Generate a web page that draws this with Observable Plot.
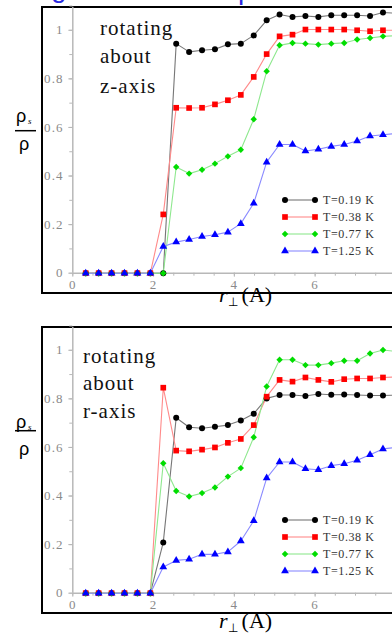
<!DOCTYPE html>
<html><head><meta charset="utf-8">
<script src="https://cdn.jsdelivr.net/npm/d3@7"></script>
<script src="https://cdn.jsdelivr.net/npm/@observablehq/plot@0.6"></script>
<style>
html,body{margin:0;padding:0;background:#fff;overflow:hidden;}
#wrap{position:relative;width:392px;height:635px;overflow:hidden;background:#fff;}
.panel{position:absolute;left:0;width:392px;height:320px;overflow:visible;}
.frame{position:absolute;left:40.5px;top:5.5px;width:440px;height:288px;border:2.5px solid #000;box-sizing:border-box;}
.abs{position:absolute;left:0;top:0;max-width:none !important;}
</style>
</head><body>
<div id="wrap"></div>
<script>
// ---- data ----
const r = [0.32,0.64,0.96,1.28,1.6,1.92,2.24,2.56,2.88,3.2,3.52,3.84,4.16,4.48,4.8,5.12,5.44,5.76,6.08,6.4,6.72,7.04,7.36,7.68,8.0];
const seriesNames = ["T=0.19 K","T=0.38 K","T=0.77 K","T=1.25 K"];
// rotating about z-axis
const zT019 = [0,0,0,0,0,0,0,0.945,0.911,0.918,0.922,0.942,0.945,0.979,1.041,1.065,1.055,1.059,1.055,1.062,1.062,1.062,1.059,1.073,1.07];
const zT038 = [0,0,0,0,0,0,0.242,0.681,0.680,0.681,0.695,0.712,0.734,0.808,0.902,0.975,0.982,1.003,1.003,1.003,1.003,1.0,0.996,1.0,1.0];
const zT077 = [0,0,0,0,0,0,0,0.437,0.41,0.426,0.451,0.481,0.508,0.634,0.831,0.938,0.948,0.945,0.941,0.945,0.948,0.962,0.968,0.975,0.978];
const zT125 = [0,0,0,0,0,0,0.11,0.128,0.139,0.151,0.158,0.169,0.204,0.288,0.457,0.53,0.53,0.503,0.51,0.522,0.53,0.544,0.565,0.57,0.575];
// rotating about r-axis
const rT019 = [0,0,0,0,0,0,0.209,0.722,0.683,0.679,0.685,0.692,0.711,0.739,0.802,0.816,0.816,0.812,0.82,0.817,0.818,0.816,0.814,0.814,0.815];
const rT038 = [0,0,0,0,0,0,0.846,0.587,0.584,0.591,0.6,0.619,0.635,0.692,0.809,0.878,0.871,0.888,0.878,0.87,0.881,0.884,0.884,0.888,0.89];
const rT077 = [0,0,0,0,0,0,0.535,0.421,0.398,0.412,0.435,0.48,0.515,0.642,0.851,0.961,0.961,0.939,0.939,0.947,0.957,0.957,0.987,1.001,0.995];
const rT125 = [0,0,0,0,0,0,0.108,0.135,0.14,0.16,0.16,0.17,0.215,0.298,0.474,0.54,0.54,0.512,0.508,0.525,0.533,0.547,0.57,0.594,0.6];
const xTicks = [0,2,4,6];
const xMinor = [0,0.5,1,1.5,2,2.5,3,3.5,4,4.5,5,5.5,6,6.5,7,7.5,8];
const yTicks = [0,0.2,0.4,0.6,0.8,1];
const yMinor = [0,0.1,0.2,0.3,0.4,0.5,0.6,0.7,0.8,0.9,1,1.1];

// ---- styles ----
const lineColors = ["#777777","#ff8a8a","#8ee88e","#8a8aff"];
const dotColors = ["#000000","#ff0000","#00dd00","#0000ff"];
const symbols = ["circle","square","diamond2","triangle"];
const sizes = [3,3.2,2.9,2.9];
const serif = "'Liberation Serif','Times New Roman',serif";
const sans = "'Liberation Sans',Arial,sans-serif";

const wrap = document.getElementById("wrap");

function makePanel(top, values, cfg) {
  const panel = document.createElement("div");
  panel.className = "panel";
  panel.style.top = top + "px";
  wrap.appendChild(panel);
  const frame = document.createElement("div");
  frame.className = "frame";
  panel.appendChild(frame);

  const data = values.flatMap((vals, k) => vals.map((v, i) => ({r: r[i], v, s: seriesNames[k], k})));
  const marks = [
    Plot.ruleX([0], {stroke: "#b8b8b8", strokeWidth: 1.5}),
    Plot.ruleY([0], {stroke: "#b8b8b8", strokeWidth: 1.5}),
    Plot.axisY({ticks: yMinor, tickSize: 3, tickFormat: () => "", stroke: "#b8b8b8", label: null}),
    Plot.axisY({ticks: yTicks, tickSize: 4, tickPadding: 5, tickFormat: d => String(d), stroke: "#b8b8b8", fill: "#8a8a8a", fontSize: 13, fontFamily: serif, label: null}),
    Plot.axisX({ticks: xMinor, tickSize: 3, tickFormat: () => "", stroke: "#b8b8b8", label: null}),
    Plot.axisX({ticks: xTicks, tickSize: 4, tickPadding: 3, tickFormat: d => String(d), stroke: "#b8b8b8", fill: "#8a8a8a", fontSize: 13, fontFamily: serif, label: null})
  ];
  values.forEach((vals, k) => {
    marks.push(Plot.line(data.filter(d => d.k === k), {x: "r", y: "v", stroke: lineColors[k], strokeWidth: 1.1}));
  });
  values.forEach((vals, k) => {
    marks.push(Plot.dot(data.filter(d => d.k === k), {x: "r", y: "v", symbol: symbols[k], fill: dotColors[k], stroke: "none", r: sizes[k]}));
  });
  const svg = Plot.plot({
    width: 460, height: 300,
    marginLeft: 72.3, marginRight: 64.6, marginTop: 6.7, marginBottom: 27.3,
    x: {domain: [0, 8]},
    y: {domain: [0, 1.095]},
    style: {background: "transparent", fontFamily: serif, fontSize: "13px", color: "#8a8a8a", overflow: "visible", maxWidth: "none"},
    marks
  });
  svg.classList.add("abs");
  svg.style.maxWidth = "none";
  svg.style.width = "460px";
  svg.style.height = "300px";
  svg.style.letterSpacing = "1.2px";
  panel.appendChild(svg);

  // overlay for annotations & legend
  const ov = d3.select(panel).append("svg").attr("class", "abs")
    .attr("width", 392).attr("height", 320).style("overflow", "visible");
  // rotating about ...
  cfg.note.forEach((t, i) => {
    ov.append("text").attr("x", cfg.noteX).attr("y", cfg.noteY[i]).text(t)
      .attr("font-family", serif).attr("font-size", 21).attr("letter-spacing", "1px").attr("fill", "#111");
  });
  // y label fraction
  const f = cfg.frac;
  ov.append("text").attr("x", 16).attr("y", f.num).attr("font-family", sans).attr("font-size", 18).attr("fill", "#000").text("ρ");
  ov.append("text").attr("x", 28).attr("y", f.num + 2).attr("font-family", serif).attr("font-style", "italic").attr("font-size", 9).attr("fill", "#000").text("s");
  ov.append("line").attr("x1", 15).attr("x2", 36).attr("y1", f.line).attr("y2", f.line).attr("stroke", "#000").attr("stroke-width", 1.5);
  ov.append("text").attr("x", 19).attr("y", f.den).attr("font-family", sans).attr("font-size", 18).attr("fill", "#000").text("ρ");
  // x label
  const xl = ov.append("text").attr("y", cfg.xlab).attr("font-family", serif).attr("font-size", 22).attr("fill", "#000");
  xl.append("tspan").attr("x", 219).attr("font-style", "italic").text("r");
  xl.append("tspan").attr("font-size", 12).attr("dy", 4).text("⊥");
  xl.append("tspan").attr("font-size", 22).attr("dy", -4).attr("dx", 4).text("(A)");
  // legend
  seriesNames.forEach((name, k) => {
    const y = 200 + 17 * k;
    ov.append("line").attr("x1", 285).attr("x2", 315).attr("y1", y).attr("y2", y).attr("stroke", lineColors[k]).attr("stroke-width", 1.1);
    const sym = d3.symbol().type({circle: d3.symbolCircle, square: d3.symbolSquare, diamond2: d3.symbolDiamond2, triangle: d3.symbolTriangle}[symbols[k]]).size(Math.PI * sizes[k] * sizes[k]);
    [285, 315].forEach(x => ov.append("path").attr("d", sym()).attr("transform", `translate(${x},${y})`).attr("fill", dotColors[k]));
    ov.append("text").attr("x", 323).attr("y", y + 4).attr("font-family", serif).attr("font-size", 12).attr("letter-spacing", "0.6px").attr("fill", "#333").text(name);
  });
}

makePanel(0, [zT019, zT038, zT077, zT125], {
  note: ["rotating", "about", "z-axis"], noteX: 100, noteY: [35, 63, 92.5],
  frac: {num: 121.5, line: 130.7, den: 149.5}, xlab: 302
});
makePanel(320, [rT019, rT038, rT077, rT125], {
  note: ["rotating", "about", "r-axis"], noteX: 83, noteY: [43, 70, 98],
  frac: {num: 107.5, line: 110.7, den: 134.5}, xlab: 308
});

// cut-off blue heading at the very top
const hd = d3.select(wrap).append("svg").attr("class", "abs").attr("width", 392).attr("height", 20);
hd.append("text").attr("x", 51).attr("y", -3).attr("font-family", sans).attr("font-size", 28).attr("fill", "#2a2ae0").text("g");
hd.append("text").attr("x", 238).attr("y", -1).attr("font-family", sans).attr("font-size", 28).attr("fill", "#2a2ae0").text("p");
</script>
</body></html>
